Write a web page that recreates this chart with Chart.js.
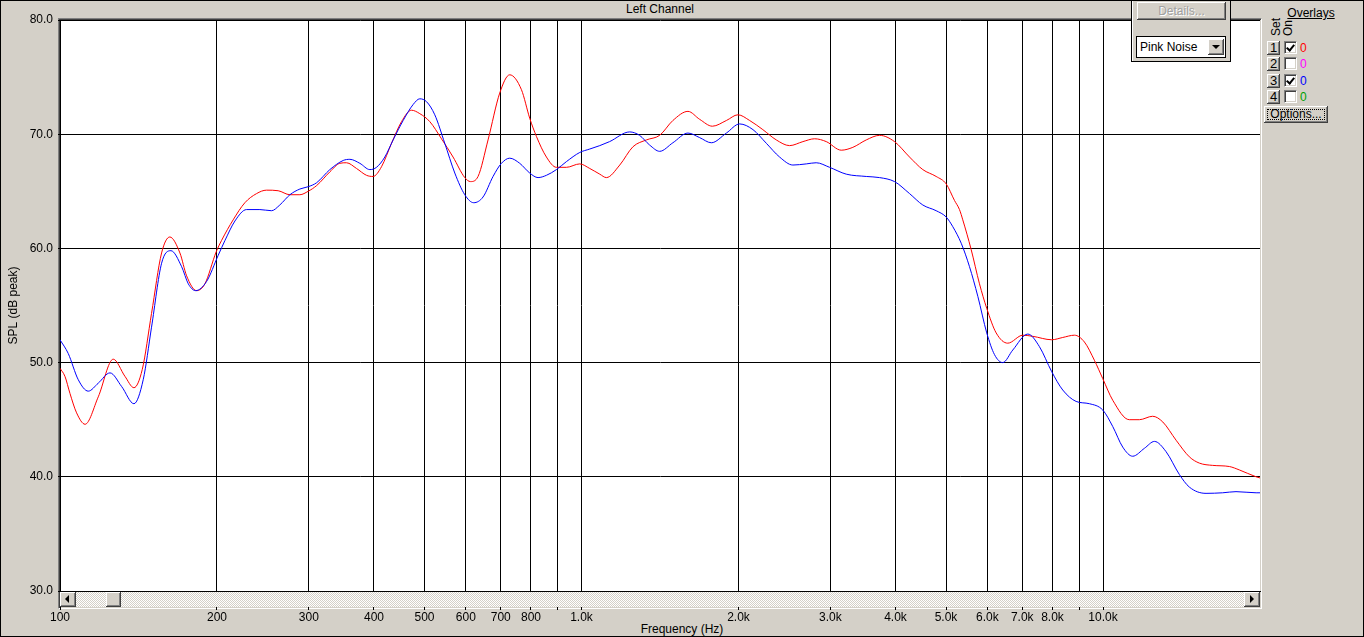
<!DOCTYPE html>
<html>
<head>
<meta charset="utf-8">
<script src="https://cdn.jsdelivr.net/npm/chart.js@4.4.1/dist/chart.umd.min.js"></script>
<style>
  html, body { margin:0; padding:0; background:#D4D0C8; }
  body { width:1364px; height:637px; position:relative; overflow:hidden;
         font-family:"Liberation Sans", Arial, sans-serif; font-size:12px; color:#000; }
  .abs { position:absolute; }
  #frame { left:58px; top:18px; width:1204px; height:591px; box-sizing:border-box;
           border-top:1px solid #808080; border-left:1px solid #808080;
           border-right:1px solid #fff; border-bottom:1px solid #fff;
           box-shadow: inset 1px 1px #404040; z-index:0; }
  #chartCanvas { left:0; top:0; z-index:1; }
  #scroll { left:60px; top:592px; width:1200px; height:15px; z-index:2;
            background-color:#D4D0C8;
            background-image: repeating-conic-gradient(#ffffff 0% 25%, #D4D0C8 0% 50%);
            background-size:2px 2px; }
  .btn { position:absolute; box-sizing:border-box; background:#D4D0C8;
         box-shadow: inset -1px -1px #404040, inset 1px 1px #ffffff, inset -2px -2px #808080, inset 2px 2px #D4D0C8; }
  .tri-l { position:absolute; left:5px; top:3px; width:0; height:0;
           border-top:4px solid transparent; border-bottom:4px solid transparent; border-right:4px solid #000; }
  .tri-r { position:absolute; left:6px; top:3px; width:0; height:0;
           border-top:4px solid transparent; border-bottom:4px solid transparent; border-left:4px solid #000; }
  .tri-d { position:absolute; left:4px; top:7px; width:0; height:0;
           border-left:4px solid transparent; border-right:4px solid transparent; border-top:4px solid #000; }
  #outer { left:0; top:0; width:1364px; height:637px; box-sizing:border-box; border:1px solid #000;
           z-index:10; pointer-events:none; }
  .txt { position:absolute; white-space:nowrap; line-height:15px; }
  .num { position:absolute; width:13px; height:14px; box-sizing:border-box; background:#D4D0C8;
         box-shadow: inset -1px -1px #404040, inset 1px 1px #ffffff, inset -2px -2px #808080;
         text-align:center; line-height:14px; font-size:13px; }
  .chk { position:absolute; width:13px; height:13px; box-sizing:border-box; background:#fff;
         border-top:1px solid #808080; border-left:1px solid #808080;
         border-right:1px solid #fff; border-bottom:1px solid #fff;
         box-shadow: inset 1px 1px #404040, inset -1px -1px #D4D0C8; }
  .tick { position:absolute; left:3px; top:1px; width:3px; height:6px;
          border-right:2px solid #000; border-bottom:2px solid #000; transform:rotate(40deg); }
  .zero { position:absolute; font-size:12px; line-height:14px; }
</style>
</head>
<body>
<div id="frame" class="abs"></div>
<canvas id="chartCanvas" class="abs" width="1364" height="637"></canvas>

<div id="scroll" class="abs">
  <div class="btn" style="left:0; top:0; width:16px; height:15px;"><div class="tri-l"></div></div>
  <div class="btn" style="left:46px; top:0; width:15px; height:15px;"></div>
  <div class="btn" style="left:1184px; top:0; width:16px; height:15px;"><div class="tri-r"></div></div>
</div>

<div class="txt" style="left:560px; top:2px; width:200px; text-align:center;">Left Channel</div>
<div class="txt" style="left:582px; top:622px; width:200px; text-align:center;">Frequency (Hz)</div>

<!-- control box -->
<div class="abs" style="left:1131px; top:-1px; width:100px; height:63px; box-sizing:border-box; border:1px solid #000; background:#D4D0C8; box-shadow: inset 1px 1px #fff; z-index:3;">
  <div class="btn" style="left:5px; top:2px; width:89px; height:18px; text-align:center; line-height:18px; color:#A0A0A0; text-shadow:1px 1px #fff;">Details...</div>
  <div class="abs" style="left:4px; top:36px; width:90px; height:22px; box-sizing:border-box; border:1px solid #000; background:#fff;">
    <div class="txt" style="left:3px; top:2px; font-size:12px; line-height:17px;">Pink Noise</div>
    <div class="btn" style="left:71px; top:2px; width:16px; height:16px;"><div class="tri-d" style="top:6px;"></div></div>
  </div>
</div>

<!-- overlays panel -->
<div class="txt" style="left:1281px; top:6px; width:60px; text-align:center; text-decoration:underline;">Overlays</div>
<div class="txt" style="left:1262px; top:21px; width:28px; text-align:left; transform-origin:0 0; transform:translate(0px,15px) rotate(-90deg); font-size:12px; line-height:14px; width:16px;"></div>
<div class="txt" style="left:1269px; top:36px; transform-origin:0 0; transform:rotate(-90deg); line-height:14px;">Set</div>
<div class="txt" style="left:1281px; top:36px; transform-origin:0 0; transform:rotate(-90deg); line-height:14px;">On</div>

<div class="num" style="left:1267px; top:41px;">1</div>
<div class="num" style="left:1267px; top:57px;">2</div>
<div class="num" style="left:1267px; top:74px;">3</div>
<div class="num" style="left:1267px; top:90px;">4</div>

<div class="chk" style="left:1284px; top:41px;"><div class="tick"></div></div>
<div class="chk" style="left:1284px; top:57px;"></div>
<div class="chk" style="left:1284px; top:74px;"><div class="tick"></div></div>
<div class="chk" style="left:1284px; top:90px;"></div>

<div class="zero" style="left:1300px; top:41px; color:#FF0000;">0</div>
<div class="zero" style="left:1300px; top:57px; color:#FF00FF;">0</div>
<div class="zero" style="left:1300px; top:74px; color:#0000FF;">0</div>
<div class="zero" style="left:1300px; top:90px; color:#00A000;">0</div>

<div class="btn" style="left:1264px; top:106px; width:64px; height:17px; text-align:center; line-height:17px;">
  <div class="abs" style="left:3px; top:3px; right:3px; bottom:3px; border:1px dotted #000;"></div>Options...</div>

<div id="outer" class="abs"></div>

<script>
// ---- data ----
const freqRed = [100,102.2,104.5,107.6,111.7,118.4,126.5,133.2,138.6,143.8,149.8,156.6,162.4,169.8,174.9,182.8,189.6,199.3,204.1,214.8,226.2,238.2,248.9,262,276,288.4,299.1,310.5,329.2,344,354.3,370.3,387,398.4,413.5,432.2,451.7,472.1,489.7,511.8,538.9,567.2,597.3,612.5,633.3,661.9,696.9,728.4,767,795.6,819.6,856.5,895.1,935.6,992.2,1037,1084,1116,1184,1255,1332,1412,1497,1600,1685,1782,1896,1995,2101,2227,2363,2506,2658,2799,2947,3148,3314,3516,3729,3983,4256,4513,4787,5003,5190,5306,5384,5587,5796,5985,6239,6567,7019,7336,7974,8371,8814,9213,9628,9988,10440,11230,11740,12450,13020,13810,14640,15300,16230,17470,18260,19660,20000];
const splRed  = [49.5,48.8,47.3,45.6,44.6,47.0,50.3,48.8,47.8,49.4,54.3,59.6,61.0,59.6,57.6,56.3,56.9,59.7,60.7,62.5,64.0,64.8,65.1,65.05,64.7,64.7,65.0,65.5,66.7,67.45,67.5,67.0,66.4,66.3,67.15,69.2,71.1,72.1,71.8,71.1,69.6,68.0,66.2,65.85,66.3,69.5,73.6,75.2,73.9,71.4,69.8,68.0,67.1,67.1,67.4,67.0,66.5,66.2,67.3,68.9,69.5,69.9,71.2,72.0,71.3,70.7,71.2,71.7,71.2,70.4,69.5,69.0,69.35,69.6,69.35,68.6,68.85,69.5,69.9,69.35,68.0,66.9,66.3,65.65,64.2,63.4,62.5,59.9,56.9,54.75,52.6,51.7,52.4,52.3,52.0,52.2,52.4,51.8,50.2,48.6,46.7,45.0,45.0,45.3,44.8,43.2,41.75,41.2,41.0,40.9,40.6,40.0,39.9];

const freqBlue = [100,103.7,108.4,113.3,118.4,124.7,131.3,138.6,144.4,149.8,156.6,163.2,171.1,176.2,182,191,201.1,207.2,216.5,227.9,241.7,254.5,263.9,276,288.4,299.1,310.5,329.2,349.2,359.6,375.8,392.8,404.5,419.6,435.3,455,475.5,489.7,504.4,523.2,546.8,571.5,597.3,621.4,647.4,676.7,702.2,728.4,761.3,795.6,825.3,856.5,895.1,935.6,992.2,1037,1084,1132,1237,1292,1351,1412,1497,1600,1685,1774,1896,2010,2132,2262,2398,2543,2698,2819,2990,3219,3516,3729,3983,4256,4513,4787,5003,5152,5347,5546,5754,5985,6193,6424,6714,7175,7552,7974,8371,8880,9417,9988,10440,10910,11400,12010,12550,13210,14010,14640,15760,16960,17990,19660,20000];
const splBlue  = [52.0,50.8,48.5,47.5,48.2,49.1,47.9,46.4,48.5,53.1,58.7,59.8,58.4,56.9,56.3,57.1,59.4,60.7,62.4,63.4,63.4,63.3,63.8,64.7,65.2,65.4,65.75,66.9,67.7,67.8,67.45,66.9,67.1,68.0,69.5,71.2,72.6,73.1,72.85,71.7,69.2,66.6,64.7,64.0,64.5,66.3,67.45,67.9,67.45,66.6,66.2,66.4,66.9,67.6,68.4,68.7,69.0,69.35,70.2,69.9,69.05,68.5,69.25,70.1,69.7,69.25,70.1,70.9,70.4,69.2,68.0,67.3,67.4,67.5,67.1,66.5,66.3,66.2,65.85,64.8,63.8,63.3,62.75,61.9,60.45,58.4,55.8,52.6,50.7,50.0,51.1,52.5,51.4,49.2,47.6,46.6,46.4,45.85,44.4,42.6,41.8,42.5,43.1,42.2,40.2,39.1,38.55,38.6,38.7,38.6,38.6];

const xTickValues = [100,200,300,400,500,600,700,800,900,1000,2000,3000,4000,5000,6000,7000,8000,9000,10000];
const xTickLabels = ['100','200','300','400','500','600','700','800','','1.0k','2.0k','3.0k','4.0k','5.0k','6.0k','7.0k','8.0k','','10.0k'];
const xMin = 100, xMax = 20000;
const yMin = 30, yMax = 80, yStep = 10;

function toPoints(fs, vs) { return fs.map((f, i) => ({ x: f, y: vs[i] })); }

Chart.defaults.font.family = '"Liberation Sans", Arial, sans-serif';
Chart.defaults.font.size = 12;
Chart.defaults.color = '#000';

const plotBg = {
  id: 'plotBg',
  beforeDraw(chart) {
    const { ctx, chartArea: a } = chart;
    ctx.save();
    ctx.fillStyle = '#ffffff';
    ctx.fillRect(a.left, a.top, a.right - a.left, a.bottom - a.top);
    ctx.restore();
  }
};

new Chart(document.getElementById('chartCanvas'), {
  type: 'scatter',
  data: {
    datasets: [
      { label: 'Set 1', data: toPoints(freqRed, splRed), borderColor: '#FF0000', backgroundColor: '#FF0000',
        borderWidth: 1, showLine: true, pointRadius: 0, cubicInterpolationMode: 'monotone', order: 1 },
      { label: 'Set 3', data: toPoints(freqBlue, splBlue), borderColor: '#0000FF', backgroundColor: '#0000FF',
        borderWidth: 1, showLine: true, pointRadius: 0, cubicInterpolationMode: 'monotone', order: 0 }
    ]
  },
  options: {
    responsive: false,
    animation: false,
    devicePixelRatio: 1,
    events: [],
    layout: { padding: { left: 0, right: 104, top: 20, bottom: 0 } },
    plugins: { legend: { display: false }, tooltip: { enabled: false }, title: { display: false } },
    scales: {
      x: {
        type: 'logarithmic', min: xMin, max: xMax,
        afterFit: s => { s.height = 46; },
        afterBuildTicks: s => { s.ticks = xTickValues.map(v => ({ value: v })); },
        ticks: { autoSkip: false, maxRotation: 0, minRotation: 0, padding: 0, color: '#000',
                 callback: (v, i) => xTickLabels[i] },
        grid: { color: '#000', lineWidth: 1, tickLength: 19, drawTicks: true },
        border: { display: true, color: '#000', width: 1 }
      },
      y: {
        type: 'linear', min: yMin, max: yMax,
        afterFit: s => { s.width = 60; },
        ticks: { stepSize: yStep, padding: 5, color: '#000', callback: v => Number(v).toFixed(1) },
        grid: { color: '#000', lineWidth: 1, tickLength: 2, drawTicks: true },
        border: { display: true, color: '#000', width: 1 },
        title: { display: true, text: 'SPL (dB peak)', color: '#000', font: { size: 12 }, padding: { top: 6, bottom: 0 } }
      }
    }
  },
  plugins: [plotBg]
});
</script>
</body>
</html>
